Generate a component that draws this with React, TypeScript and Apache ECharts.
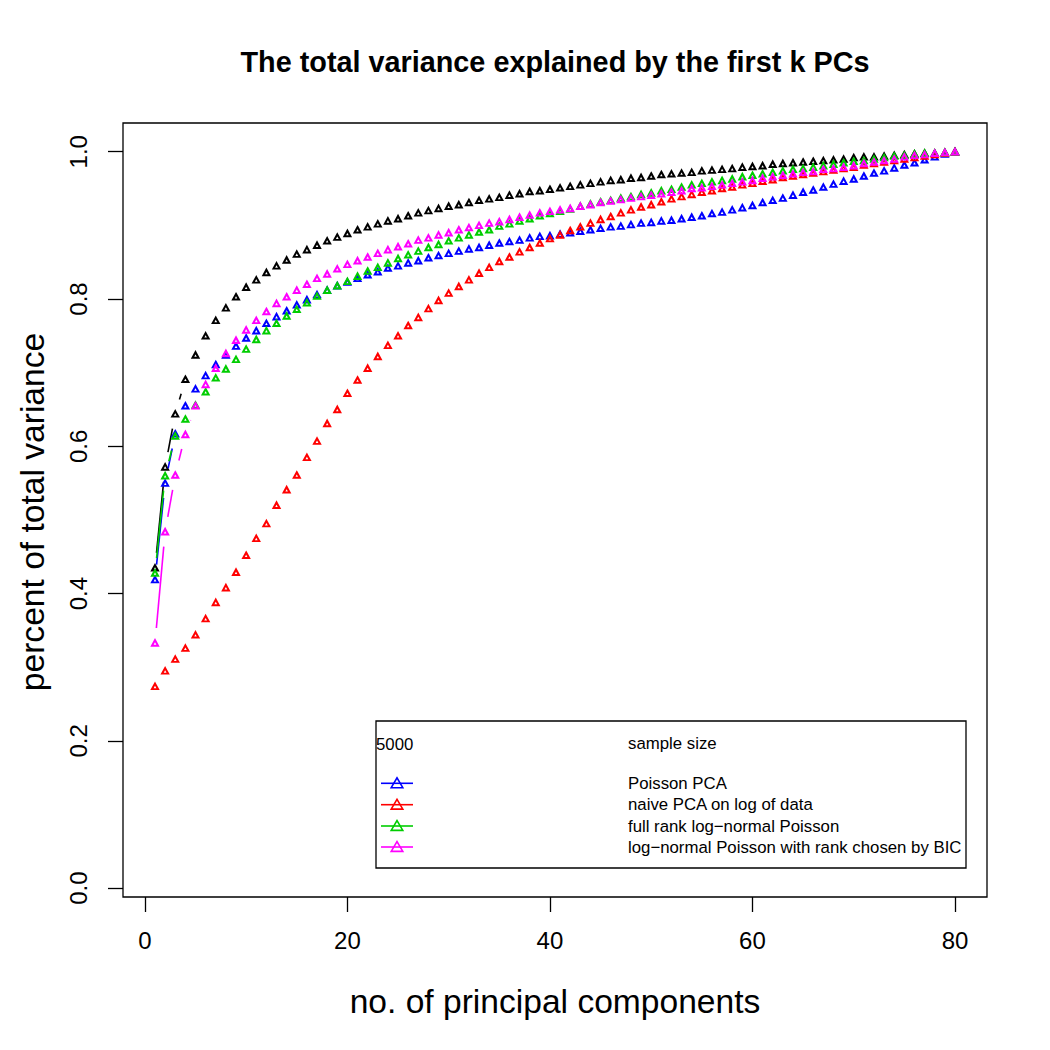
import React, { useEffect, useRef } from "react";
import * as echarts from "echarts";

const PCS: number[] = Array.from({ length: 80 }, (_, i) => i + 1);

const BLACK_VALS = [0.435, 0.572, 0.644, 0.691, 0.724, 0.750, 0.771, 0.788, 0.803, 0.816, 0.826, 0.836, 0.845, 0.853, 0.861, 0.867, 0.873, 0.879, 0.884, 0.889, 0.894, 0.898, 0.902, 0.906, 0.909, 0.913, 0.917, 0.920, 0.923, 0.926, 0.928, 0.931, 0.934, 0.936, 0.938, 0.941, 0.943, 0.946, 0.947, 0.949, 0.951, 0.953, 0.955, 0.957, 0.959, 0.961, 0.962, 0.964, 0.965, 0.967, 0.969, 0.970, 0.971, 0.972, 0.974, 0.975, 0.976, 0.977, 0.979, 0.980, 0.981, 0.983, 0.984, 0.985, 0.986, 0.987, 0.988, 0.989, 0.990, 0.992, 0.993, 0.993, 0.994, 0.995, 0.996, 0.997, 0.998, 0.998, 0.999, 1.000];

const POISSON_PCA = [0.419, 0.550, 0.617, 0.655, 0.678, 0.696, 0.711, 0.724, 0.736, 0.747, 0.757, 0.767, 0.776, 0.784, 0.792, 0.799, 0.806, 0.812, 0.818, 0.823, 0.828, 0.833, 0.837, 0.842, 0.845, 0.849, 0.852, 0.856, 0.859, 0.862, 0.865, 0.868, 0.870, 0.873, 0.876, 0.878, 0.880, 0.883, 0.885, 0.886, 0.888, 0.890, 0.892, 0.894, 0.896, 0.898, 0.899, 0.901, 0.903, 0.904, 0.906, 0.907, 0.909, 0.911, 0.913, 0.916, 0.918, 0.921, 0.924, 0.927, 0.931, 0.934, 0.937, 0.941, 0.945, 0.948, 0.952, 0.956, 0.960, 0.963, 0.967, 0.971, 0.974, 0.978, 0.982, 0.985, 0.989, 0.993, 0.997, 1.000];

const NAIVE_PCA = [0.274, 0.295, 0.311, 0.326, 0.344, 0.366, 0.388, 0.408, 0.429, 0.452, 0.475, 0.495, 0.520, 0.541, 0.561, 0.585, 0.607, 0.631, 0.650, 0.672, 0.690, 0.706, 0.722, 0.737, 0.750, 0.764, 0.775, 0.787, 0.798, 0.808, 0.817, 0.826, 0.835, 0.843, 0.851, 0.857, 0.864, 0.870, 0.876, 0.882, 0.887, 0.893, 0.898, 0.903, 0.908, 0.912, 0.917, 0.921, 0.925, 0.928, 0.932, 0.936, 0.939, 0.942, 0.945, 0.947, 0.950, 0.952, 0.955, 0.957, 0.960, 0.962, 0.965, 0.967, 0.969, 0.971, 0.973, 0.975, 0.977, 0.979, 0.982, 0.984, 0.986, 0.988, 0.990, 0.992, 0.994, 0.996, 0.998, 1.000];

const FULL_RANK = [0.428, 0.560, 0.614, 0.637, 0.656, 0.674, 0.693, 0.705, 0.718, 0.732, 0.745, 0.757, 0.767, 0.777, 0.786, 0.795, 0.804, 0.812, 0.818, 0.824, 0.831, 0.838, 0.843, 0.849, 0.855, 0.860, 0.865, 0.870, 0.874, 0.879, 0.883, 0.887, 0.891, 0.894, 0.899, 0.902, 0.906, 0.909, 0.913, 0.916, 0.919, 0.922, 0.926, 0.929, 0.932, 0.934, 0.937, 0.939, 0.942, 0.944, 0.947, 0.949, 0.952, 0.955, 0.957, 0.959, 0.961, 0.963, 0.966, 0.968, 0.970, 0.972, 0.974, 0.976, 0.977, 0.979, 0.981, 0.983, 0.985, 0.987, 0.988, 0.990, 0.992, 0.994, 0.995, 0.997, 0.998, 0.998, 0.999, 1.000];

const BIC_RANK = [0.333, 0.484, 0.561, 0.616, 0.655, 0.684, 0.706, 0.726, 0.744, 0.758, 0.771, 0.783, 0.794, 0.803, 0.812, 0.820, 0.828, 0.834, 0.841, 0.847, 0.852, 0.857, 0.862, 0.867, 0.871, 0.875, 0.880, 0.883, 0.887, 0.890, 0.894, 0.897, 0.900, 0.903, 0.905, 0.908, 0.911, 0.914, 0.917, 0.919, 0.921, 0.923, 0.926, 0.928, 0.931, 0.933, 0.935, 0.937, 0.939, 0.941, 0.943, 0.945, 0.947, 0.950, 0.951, 0.953, 0.955, 0.957, 0.959, 0.961, 0.964, 0.966, 0.968, 0.970, 0.972, 0.973, 0.976, 0.977, 0.979, 0.981, 0.984, 0.986, 0.988, 0.990, 0.993, 0.995, 0.996, 0.998, 0.999, 1.000];

const X_TICKS = [0, 20, 40, 60, 80];
const Y_TICKS = [0, 0.2, 0.4, 0.6, 0.8, 1.0];

const LEGEND_NAMES = [
  "Poisson PCA",
  "naive PCA on log of data",
  "full rank log\u2212normal Poisson",
  "log\u2212normal Poisson with rank chosen by BIC",
];

const SERIES = [
  { name: "all", values: BLACK_VALS, color: "#000000" },
  { name: LEGEND_NAMES[0], values: POISSON_PCA, color: "#0000ff" },
  { name: LEGEND_NAMES[1], values: NAIVE_PCA, color: "#ff0000" },
  { name: LEGEND_NAMES[2], values: FULL_RANK, color: "#00cd00" },
  { name: LEGEND_NAMES[3], values: BIC_RANK, color: "#ff00ff" },
];

const FONT = "'Liberation Sans', Arial, Helvetica, sans-serif";
const GAP = 15;

function segments(vals: number[]) {
  return vals.slice(0, -1).map((v, i) => [PCS[i], v, PCS[i + 1], vals[i + 1]]);
}

export default function App() {
  const ref = useRef<HTMLDivElement>(null);

  useEffect(() => {
    if (!ref.current) return;
    const chart = echarts.init(ref.current, null, { renderer: "svg" });

    const series: any[] = [];
    SERIES.forEach((s, si) => {
      const color = s.color;
      series.push({
        type: "custom",
        name: s.name + "-lines",
        silent: true,
        clip: false,
        z: 2 + si,
        encode: { x: [0, 2], y: [1, 3] },
        data: segments(s.values),
        renderItem: (params: any, api: any) => {
          const p0 = api.coord([api.value(0), api.value(1)]);
          const p1 = api.coord([api.value(2), api.value(3)]);
          const dx = p1[0] - p0[0];
          const dy = p1[1] - p0[1];
          const L = Math.sqrt(dx * dx + dy * dy);
          if (L <= 2 * GAP) return null;
          const ux = dx / L;
          const uy = dy / L;
          return {
            type: "line",
            shape: {
              x1: p0[0] + ux * GAP,
              y1: p0[1] + uy * GAP,
              x2: p1[0] - ux * GAP,
              y2: p1[1] - uy * GAP,
            },
            style: { stroke: color, lineWidth: 1.6 },
          };
        },
      });
      series.push({
        type: "scatter",
        name: s.name,
        z: 2 + si,
        symbol: "triangle",
        symbolSize: [6, 5.5],
        data: PCS.map((x, i) => [x, s.values[i]]),
        itemStyle: { color: "rgba(0,0,0,0)", borderColor: color, borderWidth: 2, opacity: 1 },
      });
    });

    const legendX = 376;
    const legendY = 721;
    const rowYs = [783.3, 804.7, 826, 847];
    const graphic: any[] = [
      {
        type: "text",
        x: 555,
        y: 62,
        style: {
          text: "The total variance explained by the first k PCs",
          font: `bold 28.8px ${FONT}`,
          fill: "#000",
          align: "center",
          verticalAlign: "middle",
        },
      },
      {
        type: "text",
        x: 555,
        y: 1001,
        style: {
          text: "no. of principal components",
          font: `33.6px ${FONT}`,
          fill: "#000",
          align: "center",
          verticalAlign: "middle",
        },
      },
      {
        type: "text",
        x: 32,
        y: 512,
        rotation: Math.PI / 2,
        style: {
          text: "percent of total variance",
          font: `33.6px ${FONT}`,
          fill: "#000",
          align: "center",
          verticalAlign: "middle",
        },
      },
      {
        type: "rect",
        shape: { x: legendX, y: legendY, width: 590, height: 147 },
        style: { fill: "#fff", stroke: "#000", lineWidth: 1.3 },
        z: 50,
      },
      {
        type: "text",
        x: 376,
        y: 744,
        z: 51,
        style: { text: "5000", font: `16.8px ${FONT}`, fill: "#000", align: "left", verticalAlign: "middle" },
      },
      {
        type: "text",
        x: 628,
        y: 743,
        z: 51,
        style: { text: "sample size", font: `16.8px ${FONT}`, fill: "#000", align: "left", verticalAlign: "middle" },
      },
    ];
    SERIES.slice(1).forEach((s, i) => {
      const y = rowYs[i];
      graphic.push({
        type: "line",
        z: 51,
        shape: { x1: 381, y1: y, x2: 413, y2: y },
        style: { stroke: s.color, lineWidth: 1.6 },
      });
      graphic.push({
        type: "polygon",
        z: 52,
        shape: { points: [[391.2, y + 4.4], [402.8, y + 4.4], [397, y - 5.4]] },
        style: { fill: "rgba(0,0,0,0)", stroke: s.color, lineWidth: 1.6 },
      });
      graphic.push({
        type: "text",
        x: 628,
        y: y,
        z: 51,
        style: { text: s.name, font: `16.8px ${FONT}`, fill: "#000", align: "left", verticalAlign: "middle" },
      });
    });

    chart.setOption({
      animation: false,
      backgroundColor: "#ffffff",
      grid: {
        left: 123,
        top: 123,
        width: 864,
        height: 774,
        show: true,
        borderColor: "#000",
        borderWidth: 1.3,
        backgroundColor: "transparent",
        containLabel: false,
      },
      xAxis: {
        type: "value",
        min: -2.16,
        max: 83.16,
        position: "bottom",
        axisLine: { show: false, onZero: false },
        splitLine: { show: false },
        axisTick: {
          show: true,
          inside: false,
          length: 15,
          lineStyle: { color: "#000", width: 1.3 },
          customValues: X_TICKS,
        },
        axisLabel: {
          show: true,
          customValues: X_TICKS,
          margin: 31,
          color: "#000",
          fontSize: 24,
          fontFamily: FONT,
          formatter: (v: number) => String(v),
        },
      },
      yAxis: {
        type: "value",
        min: -0.012,
        max: 1.039,
        position: "left",
        axisLine: { show: false, onZero: false },
        splitLine: { show: false },
        axisTick: {
          show: true,
          inside: false,
          length: 15,
          lineStyle: { color: "#000", width: 1.3 },
          customValues: Y_TICKS,
        },
        axisLabel: {
          show: true,
          customValues: Y_TICKS,
          rotate: 90,
          margin: 33,
          color: "#000",
          fontSize: 24,
          fontFamily: FONT,
          formatter: (v: number) => v.toFixed(1),
        },
      },
      graphic,
      series,
    });

    return () => chart.dispose();
  }, []);

  return (
    <div
      ref={ref}
      style={{ position: "fixed", left: 0, top: 0, width: 1050, height: 1050, background: "#fff" }}
    />
  );
}
